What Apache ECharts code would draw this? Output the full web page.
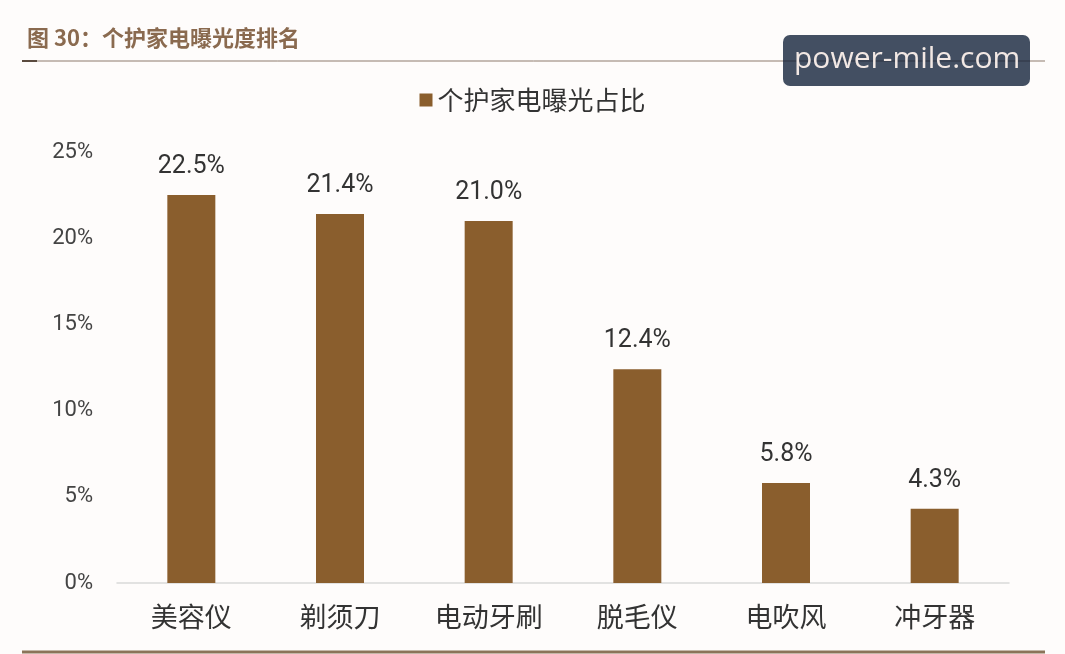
<!DOCTYPE html>
<html><head><meta charset="utf-8">
<script src="https://cdn.jsdelivr.net/npm/echarts@6/dist/echarts.min.js"></script>
<style>html,body{margin:0;padding:0;background:#fefcfb;}#c{width:1065px;height:654px;}</style>
</head><body><div id="c"></div>
<script>
const categories = ['美容仪', '剃须刀', '电动牙刷', '脱毛仪', '电吹风', '冲牙器'];
const shareValues = [22.5, 21.4, 21.0, 12.4, 5.8, 4.3];
const yTicks = [0, 5, 10, 15, 20, 25];
const seriesName = '个护家电曝光占比';
const chartTitle = '图 30：个护家电曝光度排名';
const watermark = 'power-mile.com';

const chart = echarts.init(document.getElementById('c'));
const cjk = '"Noto Sans CJK SC", sans-serif';
chart.setOption({
  backgroundColor: '#fefcfb',
  animation: false,
  title: {
    text: chartTitle, left: 22, top: 22,
    textStyle: { fontSize: 22, fontWeight: 'bold', color: '#8a6a4f', fontFamily: cjk }
  },
  legend: {
    data: [seriesName], top: 82, left: 'center',
    itemWidth: 13, itemHeight: 13, itemGap: 8,
    icon: 'rect',
    textStyle: { fontSize: 26, color: '#333', fontFamily: cjk }
  },
  grid: { left: 117, right: 56, top: 152, bottom: 71 },
  xAxis: {
    type: 'category', data: categories,
    axisLine: { lineStyle: { color: '#d9d9d9', width: 1.5 } },
    axisTick: { show: false },
    axisLabel: { fontSize: 27, color: '#333', margin: 20, fontFamily: cjk }
  },
  yAxis: {
    type: 'value', min: yTicks[0], max: yTicks[yTicks.length - 1], interval: 5,
    axisLine: { show: false }, axisTick: { show: false },
    splitLine: { show: false },
    axisLabel: { formatter: '{value}%', fontSize: 22, color: '#444', margin: 24, fontFamily: 'Roboto, sans-serif' }
  },
  series: [{
    name: seriesName, type: 'bar', data: shareValues, barWidth: 48,
    itemStyle: { color: '#8a5e2d' },
    label: { show: true, position: 'top', distance: 16, fontSize: 25, color: '#333',
      fontFamily: 'Roboto, sans-serif', formatter: p => p.value.toFixed(1) + '%' }
  }],
  graphic: [
    { type: 'line', shape: { x1: 22, y1: 61, x2: 1045, y2: 61 }, style: { stroke: '#8d7a6c', lineWidth: 1 } },
    { type: 'line', shape: { x1: 22, y1: 61, x2: 37, y2: 61 }, style: { stroke: '#5a4a3e', lineWidth: 2 } },
    { type: 'rect', shape: { x: 783, y: 35, width: 247, height: 51, r: 7 }, style: { fill: '#434f62' } },
    { type: 'line', shape: { x1: 783, y1: 61, x2: 1030, y2: 61 }, style: { stroke: '#2e3542', lineWidth: 1 } },
    { type: 'text', left: 794, top: 44, style: { text: watermark, fill: '#f2e8e4', fontSize: 30, fontFamily: '"Open Sans", sans-serif' } },
    { type: 'line', shape: { x1: 22, y1: 652, x2: 1045, y2: 652 }, style: { stroke: '#8b7459', lineWidth: 3 } }
  ]
});
</script></body></html>
